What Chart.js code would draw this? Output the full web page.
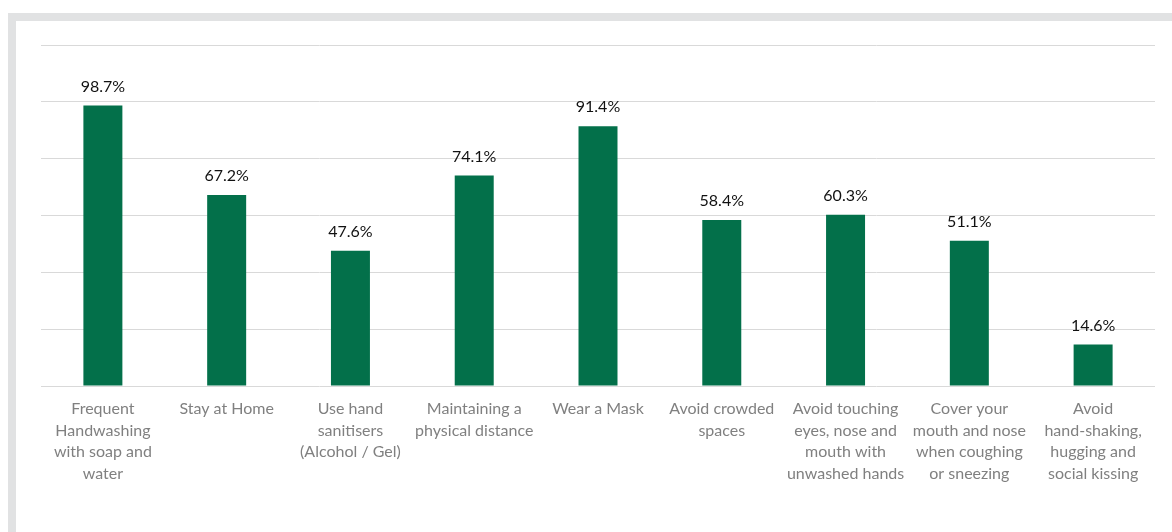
<!DOCTYPE html>
<html>
<head>
<meta charset="utf-8">
<script src="https://cdn.jsdelivr.net/npm/chart.js@4"></script>
<style>
    body { margin: 0; background: #fff; }
    .frame-top { position: absolute; left: 8px; top: 13px; width: 1164px; height: 8px; background: #e1e2e3; }
    .frame-left { position: absolute; left: 8px; top: 13px; width: 8px; height: 519px; background: #e1e2e3; }
    #chart { position: absolute; left: 0; top: 0; }
</style>
</head>
<body>
<div class="frame-top"></div>
<div class="frame-left"></div>
<canvas id="chart" width="1172" height="532"></canvas>
<script>
const categories = [
    ["Frequent", "Handwashing", "with soap and", "water"],
    ["Stay at Home"],
    ["Use hand", "sanitisers", "(Alcohol / Gel)"],
    ["Maintaining a", "physical distance"],
    ["Wear a Mask"],
    ["Avoid crowded", "spaces"],
    ["Avoid touching", "eyes, nose and", "mouth with", "unwashed hands"],
    ["Cover your", "mouth and nose", "when coughing", "or sneezing"],
    ["Avoid", "hand-shaking,", "hugging and", "social kissing"]
];
const percentages = [98.7, 67.2, 47.6, 74.1, 91.4, 58.4, 60.3, 51.1, 14.6];
const yMax = 120;
const yStep = 20;

/* global Chart */

// value labels above each bar
const valueLabels = {
    id: "valueLabels",
    afterDatasetsDraw(chart)
    {
        const ctx = chart.ctx;
        const meta = chart.getDatasetMeta(0);
        ctx.save();
        ctx.font = "16px Lato";
        ctx.fillStyle = "#111";
        ctx.textAlign = "center";
        ctx.textBaseline = "middle";
        meta.data.forEach((bar, i) => {
            ctx.fillText(percentages[i].toFixed(1) + "%", bar.x, bar.y - 19);
        });
        ctx.restore();
    }
};

new Chart(
    document.getElementById("chart"),
    {
        type: "bar",
        data: {
            labels: categories,
            datasets: [{
                data: percentages,
                backgroundColor: "#03704a",
                categoryPercentage: 1,
                barPercentage: 0.315
            }]
        },
        options: {
            responsive: false,
            animation: false,
            layout: {
                padding: { left: 41, right: 17, top: 45, bottom: 0 }
            },
            plugins: {
                legend: { display: false },
                tooltip: { enabled: false }
            },
            scales: {
                x: {
                    grid: { display: false, drawTicks: false },
                    border: { display: false },
                    ticks: {
                        color: "#808080",
                        font: { family: "Lato", size: 16, lineHeight: 1.35 },
                        padding: 12,
                        maxRotation: 0,
                        autoSkip: false
                    },
                    afterFit(scale) { scale.height = 146; }
                },
                y: {
                    min: 0,
                    max: yMax,
                    ticks: { display: false, stepSize: yStep },
                    grid: { color: "#d9d9d9", lineWidth: 1, drawTicks: false },
                    border: { display: false },
                    afterFit(scale) { scale.width = 0; }
                }
            }
        },
        plugins: [valueLabels]
    }
);
</script>
</body>
</html>
